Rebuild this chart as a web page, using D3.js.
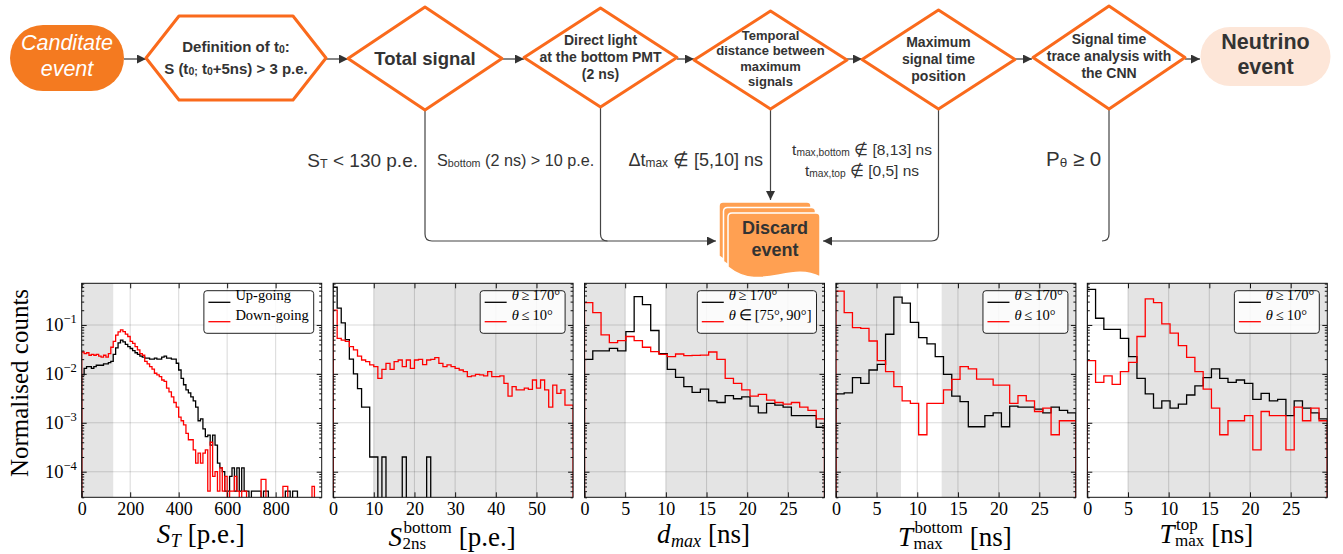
<!DOCTYPE html>
<html>
<head>
<meta charset="utf-8">
<title>Neutrino event selection</title>
<script src="https://cdn.jsdelivr.net/npm/d3@7/dist/d3.min.js"></script>
<style>
  html, body { margin: 0; padding: 0; background: #fff; }
  svg { display: block; }
</style>
</head>
<body>
<svg id="fig" width="1343" height="554"></svg>
<script>
// ---------------- Histogram contents (normalised counts per bin) ----------------
// Total signal S_T: 10 p.e. bins, 0 - 990 p.e.
const stUp = [
  0.0095, 0.013, 0.014, 0.014, 0.013, 0.014, 0.015, 0.015, 0.015, 0.016,
  0.016, 0.017, 0.018, 0.025, 0.034, 0.043, 0.049, 0.045, 0.040, 0.036,
  0.033, 0.030, 0.027, 0.025, 0.023, 0.022, 0.021, 0.021, 0.020, 0.020,
  0.021, 0.020, 0.020, 0.022, 0.023, 0.021, 0.021, 0.020, 0.020, 0.0165,
  0.012, 0.0081, 0.0060, 0.0047, 0.0041, 0.0034, 0.0028, 0.0021, 0.0011, 0.0012,
  0.00075, 0.00052, 0.00056, 0.00035, 0.00056, 0.00035, 0.00015, 0.00012, 0.0001, 0.00004,
  0.00004, 0.00008, 0.00012, 0.00004, 0.00012, 0.00004, 0.00012, 0.00004, 0.00004, 0,
  0.00004, 0.00004, 0.00004, 0.00004, 0, 0.00004, 0.00004, 0, 0, 0,
  0, 0, 0, 0, 0.00004, 0.00004, 0, 0.00004, 0.00004, 0,
  0, 0, 0, 0, 0, 0, 0, 0, 0
];
const stDown = [
  0.028, 0.026, 0.027, 0.024, 0.025, 0.024, 0.025, 0.023, 0.022, 0.024,
  0.022, 0.026, 0.035, 0.046, 0.062, 0.072, 0.079, 0.073, 0.065, 0.058,
  0.046, 0.042, 0.036, 0.031, 0.026, 0.024, 0.018, 0.016, 0.0141, 0.0125,
  0.0103, 0.0095, 0.0088, 0.0075, 0.0070, 0.0051, 0.0043, 0.0034, 0.0026, 0.0021,
  0.0013, 0.0011, 0.00091, 0.00061, 0.00045, 0.00045, 0.00028, 0.00015, 0.00024, 0.00015,
  0.00024, 0.00028, 0.00004, 0.0004, 0.00008, 0.0001, 0.00004, 0.00012, 0.00004, 0.00008,
  0, 0.00004, 0.00004, 0.00008, 0.00004, 0, 0.00004, 0.00004, 0, 0,
  0, 0, 0, 0, 0.00007, 0.00007, 0, 0, 0, 0,
  0, 0, 0, 0.00005, 0.00005, 0, 0, 0, 0, 0,
  0, 0, 0, 0, 0, 0.00005, 0, 0, 0
];

// Bottom-PMT signal in the first 2 ns: 1 p.e. bins, 0 - 59 p.e.
const s2nsUp = [
  0.59, 0.22, 0.11, 0.05, 0.02, 0.01, 0.005, 0.0021, 0.0021, 0.0002,
  0.0002, 0, 0.0002, 0, 0, 0, 0, 0.0002, 0, 0,
  0, 0, 0, 0.0002, 0, 0, 0, 0, 0, 0,
  0, 0, 0, 0, 0, 0, 0, 0, 0, 0,
  0, 0, 0, 0, 0, 0, 0, 0, 0, 0,
  0, 0, 0, 0, 0, 0, 0, 0, 0
];
const s2nsDown = [
  0.2, 0.053, 0.049, 0.046, 0.036, 0.031, 0.023, 0.0192, 0.0178, 0.0152,
  0.0141, 0.0081, 0.0124, 0.0164, 0.0124, 0.0178, 0.0192, 0.0141, 0.0192, 0.013,
  0.0192, 0.0198, 0.0155, 0.0192, 0.0198, 0.0215, 0.0164, 0.0141, 0.0152, 0.0141,
  0.013, 0.012, 0.0111, 0.0088, 0.0091, 0.0098, 0.0095, 0.0091, 0.0111, 0.0088,
  0.0088, 0.0091, 0.0064, 0.0035, 0.0055, 0.0047, 0.0047, 0.0051, 0.0048, 0.0075,
  0.0051, 0.0075, 0.0047, 0.0021, 0.0059, 0.004, 0.0047, 0.0023, 0.0023
];

// Distance between the signal maxima: 29 bins over 0 - 29.5 ns
const dmaxUp = [
  0.0198, 0.0294, 0.0294, 0.0333, 0.0294, 0.073, 0.38, 0.26, 0.077, 0.026,
  0.0124, 0.0085, 0.0055, 0.0042, 0.0049, 0.0028, 0.0026, 0.0036, 0.0031, 0.0034,
  0.0022, 0.0016, 0.0025, 0.0023, 0.0021, 0.0014, 0.0014, 0.0014, 0.00081
];
const dmaxHoriz = [
  0.286, 0.178, 0.0625, 0.0435, 0.048, 0.058, 0.048, 0.035, 0.0285, 0.0251,
  0.0225, 0.0255, 0.0235, 0.0238, 0.0242, 0.028, 0.0198, 0.0081, 0.0064, 0.0047,
  0.0035, 0.0038, 0.0029, 0.0026, 0.0024, 0.0026, 0.0021, 0.0018, 0.0012
];

// Time of the maximum, bottom PMT: 29 bins over 0 - 29.5 ns
const tBotUp = [
  0.0039, 0.0041, 0.0084, 0.0064, 0.012, 0.0157, 0.0645, 0.37, 0.28, 0.113,
  0.055, 0.041, 0.0225, 0.0098, 0.0035, 0.0027, 0.00083, 0.00083, 0.0014, 0.0016,
  0.00083, 0.0022, 0.0021, 0.0021, 0.0019, 0.0016, 0.0021, 0.0018, 0.0016
];
const tBotDown = [
  0.49, 0.178, 0.088, 0.085, 0.047, 0.0187, 0.0111, 0.0055, 0.0028, 0.0025,
  0.00057, 0.0025, 0.0025, 0.0047, 0.0077, 0.0141, 0.0126, 0.0078, 0.0078, 0.0059,
  0.0059, 0.0025, 0.0036, 0.0028, 0.0017, 0.002, 0.00057, 0.0011, 0.0011
];

// Time of the maximum, top PMT: 29 bins over 0 - 29.5 ns
const tTopUp = [
  0.535, 0.137, 0.0815, 0.0815, 0.0534, 0.0225, 0.0081, 0.0039, 0.002, 0.0028,
  0.002, 0.0024, 0.0037, 0.0057, 0.0084, 0.0126, 0.0081, 0.0067, 0.0075, 0.0064,
  0.003, 0.004, 0.0028, 0.003, 0.0014, 0.0028, 0.002, 0.0016, 0.0012
];
const tTopDown = [
  0.0187, 0.0067, 0.0091, 0.0061, 0.0111, 0.0172, 0.058, 0.34, 0.286, 0.105,
  0.068, 0.0378, 0.0218, 0.0111, 0.0049, 0.002, 0.00057, 0.0011, 0.0011, 0.0014,
  0.00028, 0.0017, 0.0014, 0.0014, 0.00028, 0.0021, 0.0011, 0.002, 0.0011
];

// Axis ranges and ticks
const stRange = [0, 990];
const s2nsRange = [0, 59];
const timeRange = [0, 29.5];
const stTicks = [0, 200, 400, 600, 800];
const s2nsTicks = [0, 10, 20, 30, 40, 50];
const timeTicks = [0, 5, 10, 15, 20, 25];
const yRange = [3e-5, 0.71];
const yTicks = [1e-4, 1e-3, 1e-2, 1e-1];
const yTickExponents = ["−4", "−3", "−2", "−1"];

// Regions rejected by each cut
const stCut = [[0, 130]];
const s2nsCut = [[10, 59]];
const dmaxCut = [[0, 5], [10, 29.5]];
const tBotCut = [[0, 8], [13, 29.5]];
const tTopCut = [[5, 29.5]];

// Legend entries ([text, "i"] = italic)
const legendDirection = [[["Up-going"]], [["Down-going"]]];
const legendVertical = [[["θ", "i"], ["\u2009≥\u2009170°"]], [["θ", "i"], ["\u2009≤\u200910°"]]];
const legendHorizontal = [[["θ", "i"], ["\u2009≥\u2009170°"]], [["θ", "i"], ["\u2009∈\u2009[75°,\u200990°]"]]];

// ---------------- Flowchart text ----------------
const candidateText = ["Canditate", "event"];
const definitionText = [[["Definition of t"], ["0", "sub"], [":"]],
                        [["S (t"], ["0;", "sub"], [" t"], ["0", "sub"], ["+5ns) > 3 p.e."]]];
const totalText = ["Total signal"];
const directText = ["Direct light", "at the bottom PMT", "(2 ns)"];
const temporalText = ["Temporal", "distance between", "maximum", "signals"];
const positionText = ["Maximum", "signal time", "position"];
const cnnText = ["Signal time", "trace analysis with", "the CNN"];
const neutrinoText = ["Neutrino", "event"];
const discardText = ["Discard", "event"];
const cutST = [["S"], ["T", "sub"], [" < 130 p.e."]];
const cutBottom = [["S"], ["bottom", "sub"], [" (2 ns) > 10 p.e."]];
const cutDelta = [["Δt"], ["max", "sub"], [" ∉ [5,10] ns"]];
const cutTBottom = [["t"], ["max,bottom", "sub"], [" ∉ [8,13] ns"]];
const cutTTop = [["t"], ["max,top", "sub"], [" ∉ [0,5] ns"]];
const cutCNN = [["P"], ["θ", "sub"], [" ≥ 0"]];

// ---------------- Drawing ----------------
const SANS = "'Liberation Sans', Arial, Helvetica, sans-serif";
const SERIF = "'Liberation Serif', 'Times New Roman', Times, serif";
const ORANGE = "#f47a20", EDGE = "#fa6a1c", DISCARD = "#ffa052", PEACH = "#fde6d8", INK = "#333333";

const svg = d3.select("#fig");
const defs = svg.append("defs");
defs.append("marker").attr("id", "arrow").attr("viewBox", "0 0 10 10")
  .attr("refX", 10).attr("refY", 5).attr("markerWidth", 10).attr("markerHeight", 9)
  .attr("markerUnits", "userSpaceOnUse").attr("orient", "auto")
  .append("path").attr("d", "M0,0 L10,5 L0,10 Z").attr("fill", "#333");

// rich text: segments of [string, kind] with kind "sub" or "i"
function richText(text, segs, size, subScale = 0.64, subDrop = 0.06) {
  let shift = 0;
  segs.forEach(([str, kind]) => {
    const sub = kind === "sub";
    const target = sub ? size * subDrop : 0;
    const t = text.append("tspan").attr("dy", target - shift)
      .attr("font-size", sub ? size * subScale : size).text(str);
    if (kind === "i") t.attr("font-style", "italic");
    shift = target;
  });
  return text;
}

// ---- flowchart ----
const flow = svg.append("g").style("font-family", SANS);
const flowY = 59;

// main chain of arrows
const chain = [[124, 146], [326, 348], [502, 524], [677, 694], [847, 862], [1015, 1032], [1185, 1200]];
flow.selectAll("line.chain").data(chain).join("line")
  .attr("x1", d => d[0]).attr("x2", d => d[1]).attr("y1", flowY).attr("y2", flowY)
  .attr("stroke", "#444").attr("stroke-width", 1.3).attr("marker-end", "url(#arrow)");

// branches to the discard box
const joinY = 241, r = 7;
const branches = [
  `M425,110 V${joinY - r} Q425,${joinY} ${425 + r},${joinY} H716`,
  `M600.5,107 V${joinY - r} Q600.5,${joinY} ${600.5 + r},${joinY}`,
  `M770.5,109 V200`,
  `M938.5,109 V${joinY - r} Q938.5,${joinY} ${938.5 - r},${joinY} H823`,
  `M1109,109 V${joinY - r} Q1109,${joinY} ${1109 - r},${joinY}`
];
flow.selectAll("path.branch").data(branches).join("path")
  .attr("d", d => d).attr("fill", "none").attr("stroke", "#444").attr("stroke-width", 1.2)
  .attr("marker-end", (d, i) => (i === 0 || i === 2 || i === 3) ? "url(#arrow)" : null);

// candidate pill
flow.append("rect").attr("x", 10).attr("y", 25).attr("width", 114).attr("height", 66)
  .attr("rx", 33).attr("fill", ORANGE);
candidateText.forEach((s, i) => flow.append("text").attr("x", 67).attr("y", [50, 76][i])
  .attr("text-anchor", "middle").attr("font-size", 21.5).attr("font-style", "italic")
  .attr("fill", "#fff").text(s));

// hexagon
const hx0 = 146, hx1 = 326, hy0 = 16, hy1 = 100, hin = 33, hcy = 58;
flow.append("path")
  .attr("d", `M${hx0},${hcy} L${hx0 + hin},${hy0} L${hx1 - hin},${hy0} L${hx1},${hcy} L${hx1 - hin},${hy1} L${hx0 + hin},${hy1} Z`)
  .attr("fill", "#fff").attr("stroke", EDGE).attr("stroke-width", 3).attr("stroke-linejoin", "round");
definitionText.forEach((segs, i) => richText(flow.append("text").attr("x", 236).attr("y", [52, 74][i])
  .attr("text-anchor", "middle").attr("font-weight", "bold").attr("fill", INK), segs, 15, 0.7, 0.04));

// decision diamonds
const diamonds = [
  {cx: 425, cy: 58.5, hw: 77, hh: 51.5, lines: totalText, size: 18.5, base: [64.5]},
  {cx: 600.5, cy: 57.5, hw: 76.5, hh: 49.5, lines: directText, size: 14, base: [44.5, 61.8, 79]},
  {cx: 770.5, cy: 60, hw: 76.5, hh: 49, lines: temporalText, size: 13, base: [39.5, 55.2, 70.8, 86.4]},
  {cx: 938.5, cy: 59.5, hw: 76.5, hh: 49.5, lines: positionText, size: 14, base: [46.5, 63.5, 80.5]},
  {cx: 1109, cy: 57.5, hw: 76, hh: 51.5, lines: cnnText, size: 14, base: [43.5, 61, 78.3]}
];
diamonds.forEach(d => {
  flow.append("path")
    .attr("d", `M${d.cx},${d.cy - d.hh} L${d.cx + d.hw},${d.cy} L${d.cx},${d.cy + d.hh} L${d.cx - d.hw},${d.cy} Z`)
    .attr("fill", "#fff").attr("stroke", EDGE).attr("stroke-width", 3).attr("stroke-linejoin", "round");
  d.lines.forEach((s, i) => flow.append("text").attr("x", d.cx).attr("y", d.base[i])
    .attr("text-anchor", "middle").attr("font-weight", "bold").attr("font-size", d.size)
    .attr("fill", INK).text(s));
});

// neutrino pill
flow.append("rect").attr("x", 1200.5).attr("y", 27).attr("width", 130).attr("height", 59)
  .attr("rx", 29.5).attr("fill", PEACH);
neutrinoText.forEach((s, i) => flow.append("text").attr("x", 1265.5).attr("y", [48.5, 74][i])
  .attr("text-anchor", "middle").attr("font-size", 21.5).attr("font-weight", "bold")
  .attr("fill", INK).text(s));

// discard stack
function docPath(x, y, w, h) {
  const c = 4;
  return `M${x},${y + c} Q${x},${y} ${x + c},${y} H${x + w - c} Q${x + w},${y} ${x + w},${y + c} ` +
         `V${y + h} C${x + w - 30},${y + h - 16} ${x + 32},${y + h + 16} ${x},${y + h - 10} Z`;
}
[[719, 202], [723.5, 207.5], [728, 213]].forEach(([x, y]) => {
  flow.append("path").attr("d", docPath(x, y, 92, 64)).attr("fill", DISCARD)
    .attr("stroke", "#fff").attr("stroke-width", 1.5);
});
discardText.forEach((s, i) => flow.append("text").attr("x", 775).attr("y", [233.5, 256][i])
  .attr("text-anchor", "middle").attr("font-size", 18).attr("font-weight", "bold")
  .attr("fill", INK).text(s));

// cut conditions
const cutLabels = [
  {segs: cutST, x: 418, y: 167, anchor: "end", size: 19},
  {segs: cutBottom, x: 437, y: 166, anchor: "start", size: 16.2},
  {segs: cutDelta, x: 763, y: 166, anchor: "end", size: 18},
  {segs: cutTBottom, x: 862, y: 155, anchor: "middle", size: 15.5},
  {segs: cutTTop, x: 862, y: 176, anchor: "middle", size: 15.5},
  {segs: cutCNN, x: 1046, y: 166, anchor: "start", size: 20.5}
];
cutLabels.forEach(c => richText(flow.append("text").attr("x", c.x).attr("y", c.y)
  .attr("text-anchor", c.anchor).attr("fill", INK), c.segs, c.size, 0.66, 0.05));

// ---- histogram panels ----
const P = {left0: 81.7, step: 251.4, width: 240, top: 283.3, bottom: 497.3};
const y = d3.scaleLog().domain(yRange).range([P.bottom, P.top]);

const panels = [
  {series: [stUp, stDown], range: stRange, ticks: stTicks, cuts: stCut, legend: legendDirection,
   label: {base: "S", sub: "T", subItalic: true, rest: "[p.e.]", y: 542.5}},
  {series: [s2nsUp, s2nsDown], range: s2nsRange, ticks: s2nsTicks, cuts: s2nsCut, legend: legendVertical,
   label: {base: "S", sup: "bottom", sub: "2ns", rest: "[p.e.]", y: 546}},
  {series: [dmaxUp, dmaxHoriz], range: timeRange, ticks: timeTicks, cuts: dmaxCut, legend: legendHorizontal,
   label: {base: "d", sub: "max", subItalic: true, rest: "[ns]", y: 542.5}},
  {series: [tBotUp, tBotDown], range: timeRange, ticks: timeTicks, cuts: tBotCut, legend: legendVertical,
   label: {base: "T", sup: "bottom", sub: "max", rest: "[ns]", y: 546}},
  {series: [tTopUp, tTopDown], range: timeRange, ticks: timeTicks, cuts: tTopCut, legend: legendVertical,
   label: {base: "T", sup: "top", sub: "max", rest: "[ns]", y: 543}}
];
const colors = ["#000000", "#ff0000"];

// minor ticks of the log axis
const yMinor = [];
for (let e = -5; e <= -1; e++) for (let k = 2; k <= 9; k++) {
  const v = k * Math.pow(10, e);
  if (v > yRange[0] && v < yRange[1]) yMinor.push(v);
}

panels.forEach((p, pi) => {
  const left = P.left0 + pi * P.step;
  const g = svg.append("g").attr("transform", `translate(${left},0)`).style("font-family", SERIF);
  const x = d3.scaleLinear().domain(p.range).range([0, P.width]);
  const H = P.bottom - P.top;

  const clipId = "clip" + pi;
  defs.append("clipPath").attr("id", clipId).append("rect")
    .attr("x", 0).attr("y", P.top).attr("width", P.width).attr("height", H);

  // rejected regions
  g.selectAll("rect.cut").data(p.cuts).join("rect")
    .attr("x", d => x(d[0])).attr("width", d => x(d[1]) - x(d[0]))
    .attr("y", P.top).attr("height", H).attr("fill", "#e4e4e4");

  // grid
  g.selectAll("line.gx").data(p.ticks.filter(t => t > p.range[0])).join("line")
    .attr("x1", d => x(d)).attr("x2", d => x(d)).attr("y1", P.top).attr("y2", P.bottom)
    .attr("stroke", "#000").attr("stroke-opacity", 0.14).attr("stroke-width", 1.1);
  g.selectAll("line.gy").data(yTicks).join("line")
    .attr("x1", 0).attr("x2", P.width).attr("y1", d => y(d)).attr("y2", d => y(d))
    .attr("stroke", "#000").attr("stroke-opacity", 0.14).attr("stroke-width", 1.1);

  // step histograms
  const n = p.series[0].length;
  const edges = d3.range(n + 1).map(i => p.range[0] + i * (p.range[1] - p.range[0]) / n);
  const floorY = P.bottom + 30;
  const line = d3.line();
  p.series.forEach((vals, si) => {
    const pts = [[x(edges[0]), floorY]];
    vals.forEach((v, i) => {
      const yy = v > 0 ? y(v) : floorY;
      pts.push([x(edges[i]), yy], [x(edges[i + 1]), yy]);
    });
    pts.push([x(edges[n]), floorY]);
    g.append("path").attr("d", line(pts)).attr("fill", "none")
      .attr("stroke", colors[si]).attr("stroke-width", 1.3).attr("stroke-linejoin", "miter")
      .attr("clip-path", `url(#${clipId})`);
  });

  // frame
  g.append("rect").attr("x", 0).attr("y", P.top).attr("width", P.width).attr("height", H)
    .attr("fill", "none").attr("stroke", "#111").attr("stroke-width", 1);

  // axes with inward ticks
  const styleAxis = a => {
    a.attr("font-family", null).attr("font-size", null);
    a.select(".domain").remove();
    a.selectAll(".tick line").attr("stroke", "#111");
  };
  const xb = g.append("g").attr("transform", `translate(0,${P.bottom})`)
    .call(d3.axisBottom(x).tickValues(p.ticks).tickSizeInner(-5).tickSizeOuter(0).tickPadding(5));
  styleAxis(xb);
  xb.selectAll(".tick text").style("font-family", SERIF).style("font-size", "18px").attr("fill", "#000");
  const xt = g.append("g").attr("transform", `translate(0,${P.top})`)
    .call(d3.axisTop(x).tickValues(p.ticks).tickSizeInner(-5).tickSizeOuter(0).tickFormat(""));
  styleAxis(xt);
  [[d3.axisLeft, 0], [d3.axisRight, P.width]].forEach(([ax, tx]) => {
    const a1 = g.append("g").attr("transform", `translate(${tx},0)`)
      .call(ax(y).tickValues(yTicks).tickSizeInner(-5).tickSizeOuter(0).tickFormat(""));
    styleAxis(a1);
    const a2 = g.append("g").attr("transform", `translate(${tx},0)`)
      .call(ax(y).tickValues(yMinor).tickSizeInner(-2.5).tickSizeOuter(0).tickFormat(""));
    styleAxis(a2);
  });

  // y tick labels on the first panel only
  if (pi === 0) {
    yTicks.forEach((v, i) => {
      const t = g.append("text").attr("x", -5).attr("y", y(v) + 6.5).attr("text-anchor", "end")
        .style("font-size", "18.5px").attr("fill", "#000");
      t.append("tspan").text("10");
      t.append("tspan").attr("dy", -8.5).style("font-size", "12.5px").text(yTickExponents[i]);
    });
    g.append("text").attr("transform", `translate(${28 - left},383) rotate(-90)`)
      .attr("text-anchor", "middle").style("font-size", "25px").attr("fill", "#000")
      .text("Normalised counts");
  }

  // x label: one text element, super/subscripts stacked with absolute x positions
  const L = p.label;
  const lt = g.append("text").attr("x", 0).attr("y", L.y).attr("fill", "#000");
  const bs = lt.append("tspan").style("font-size", "27px").attr("font-style", "italic").text(L.base);
  let cx = bs.node().getComputedTextLength() + 0.5;
  let w = 0, dyNow = 0;
  if (L.sup) {
    const s = lt.append("tspan").attr("x", cx + 1).attr("dy", -13.5).style("font-size", "17px").text(L.sup);
    w = Math.max(w, s.node().getComputedTextLength() + 1);
    dyNow = -13.5;
  }
  if (L.sub) {
    const target = L.sup ? 3 : 4;
    const s = lt.append("tspan").attr("x", cx).attr("dy", target - dyNow).style("font-size", L.sup ? "17px" : "18px")
      .attr("font-style", L.subItalic ? "italic" : "normal").text(L.sub);
    w = Math.max(w, s.node().getComputedTextLength());
    dyNow = target;
  }
  cx += w + 7;
  const rs = lt.append("tspan").attr("x", cx).attr("dy", -dyNow).style("font-size", "27px").text(L.rest);
  const total = cx + rs.node().getComputedTextLength();
  lt.attr("transform", `translate(${P.width / 2 - total / 2 - 1},0)`);

  // legend
  const leg = g.append("g");
  const texts = p.legend.map((segs, i) => {
    const t = leg.append("text").attr("y", P.top + 16.8 + i * 19.4).style("font-size", "14.5px").attr("fill", "#000");
    segs.forEach(([s, k]) => { const ts = t.append("tspan").text(s); if (k === "i") ts.attr("font-style", "italic"); });
    return t;
  });
  const tw = d3.max(texts, t => t.node().getComputedTextLength());
  const boxW = 4.5 + 22 + 5 + tw + 5;
  const bx = P.width - 8 - boxW, by = P.top + 7.4;
  leg.insert("rect", "text").attr("x", bx).attr("y", by).attr("width", boxW).attr("height", 42.6)
    .attr("rx", 3).attr("fill", "#fff").attr("fill-opacity", 0.85).attr("stroke", "#222").attr("stroke-width", 1);
  texts.forEach((t, i) => {
    t.attr("x", bx + 31.5);
    leg.append("line").attr("x1", bx + 4.5).attr("x2", bx + 26.5)
      .attr("y1", by + 11.6 + i * 19.4).attr("y2", by + 11.6 + i * 19.4)
      .attr("stroke", colors[i]).attr("stroke-width", 1.3);
  });
});
</script>
</body>
</html>
